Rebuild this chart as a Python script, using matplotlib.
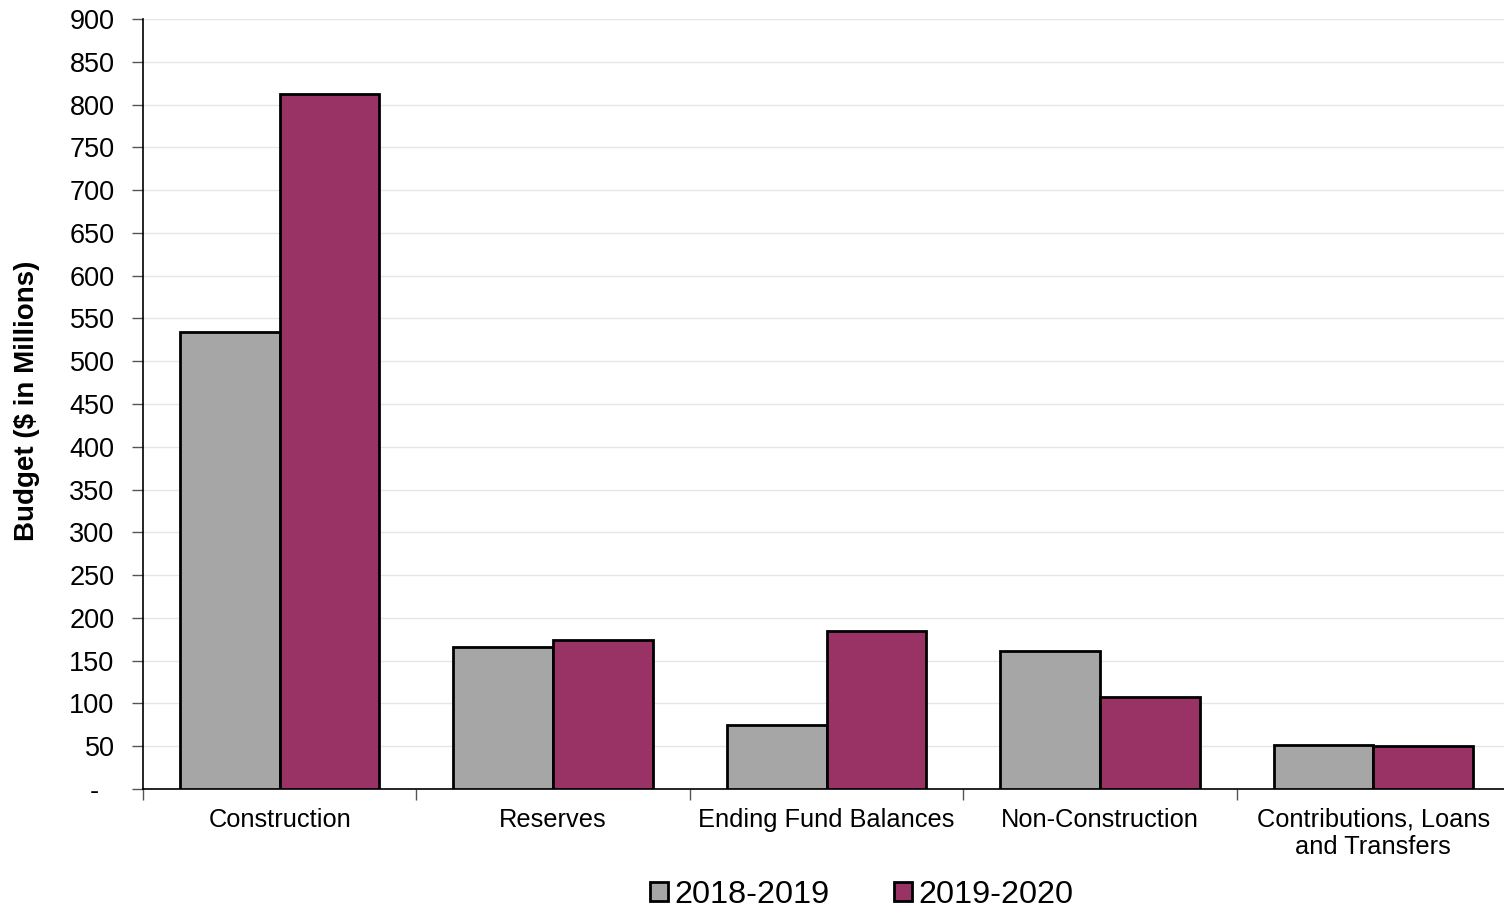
import numpy as np
import matplotlib.pyplot as plt
from matplotlib.ticker import FixedLocator

plt.rcParams['font.family'] = ['Liberation Sans', 'DejaVu Sans']

categories = ['Construction', 'Reserves', 'Ending Fund Balances',
              'Non-Construction', 'Contributions, Loans\nand Transfers']
fy2019 = [534, 166, 75, 161, 52]
fy2020 = [812, 174, 185, 107, 50]
series_names = ['2018-2019', '2019-2020']
yticks = list(range(0, 901, 50))
ytick_labels = ['-  '] + [str(v) for v in yticks[1:]]

fig = plt.figure(figsize=(15.04, 9.08), dpi=100)
ax = fig.add_axes([143 / 1504, 1 - 789 / 908, (1510 - 143) / 1504, (789 - 19) / 908])

x = np.arange(len(categories))
w = 0.365
ax.bar(x - w / 2, fy2019, w, color='#A6A6A6', edgecolor='black', linewidth=2,
       label=series_names[0], zorder=3)
ax.bar(x + w / 2, fy2020, w, color='#993366', edgecolor='black', linewidth=2,
       label=series_names[1], zorder=3)

ax.set_xlim(-0.5, len(categories) - 0.5)
ax.set_ylim(0, 900)
ax.set_yticks(yticks)
ax.set_yticklabels(ytick_labels, fontsize=19.5)
ax.grid(axis='y', color='#E6E6E6', linewidth=1, zorder=0)

ax.set_xticks(x)
ax.set_xticklabels(categories, fontsize=18.3, linespacing=1.15)
ax.xaxis.set_minor_locator(FixedLocator(np.arange(-0.5, len(categories), 1)))
ax.tick_params(axis='x', which='major', length=0, pad=13.5)
ax.tick_params(axis='x', which='minor', length=8, width=1, color='#555555')
ax.tick_params(axis='y', length=8, width=1, color='#555555', pad=12.5)

for s in ['top', 'right']:
    ax.spines[s].set_visible(False)
ax.spines['left'].set_linewidth(1.2)
ax.spines['bottom'].set_linewidth(1.2)

ax.set_ylabel('Budget ($ in Millions)', fontsize=20, fontweight='bold')
ax.yaxis.set_label_coords(-0.0753, 0.504)

leg = fig.legend(loc='center', bbox_to_anchor=(862 / 1504, 1 - 895 / 908), ncol=2,
                 frameon=False, fontsize=23.3, handlelength=0.55, handleheight=0.55,
                 handletextpad=0.2, columnspacing=2.0)
for h in leg.legend_handles:
    h.set_linewidth(2)

fig.savefig('out.png', dpi=100)
